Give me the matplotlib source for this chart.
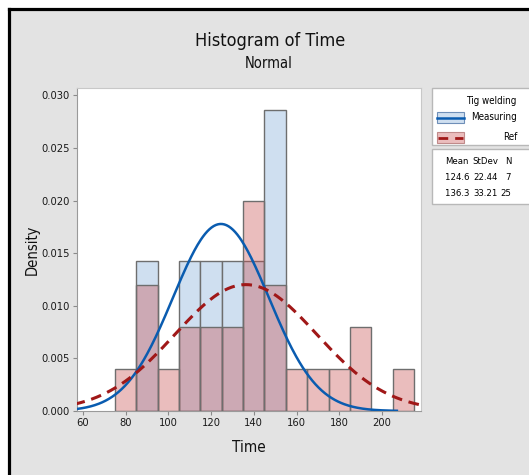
import matplotlib
matplotlib.use("Agg")
import matplotlib.pyplot as plt
import numpy as np
from matplotlib.patches import Rectangle
from matplotlib.lines import Line2D

# histogram bins (width 10) and densities
bin_edges = [75, 85, 95, 105, 115, 125, 135, 145, 155, 165, 175, 185, 195, 205, 215]
measuring_counts = [0, 1, 0, 1, 1, 1, 1, 2, 0, 0, 0, 0, 0, 0]
ref_counts = [1, 3, 1, 2, 2, 2, 5, 3, 1, 1, 1, 2, 0, 1]

groups = ["Measuring", "Ref"]
means = [124.6, 136.3]
stdevs = [22.44, 33.21]
ns = [7, 25]

x_ticks = [60, 80, 100, 120, 140, 160, 180, 200]
y_ticks = [0.000, 0.005, 0.010, 0.015, 0.020, 0.025, 0.030]

plt.rcParams["font.family"] = ["DejaVu Sans"]
plt.rcParams["font.stretch"] = "condensed"

BG = "#e3e3e3"
BLUE_FILL = "#cfdff0"
RED_FILL = (0.78, 0.30, 0.30, 0.37)
BLUE_LINE = "#0a5cb0"
RED_LINE = "#a01818"
EDGE = "#6e6e6e"

fig = plt.figure(figsize=(5.29, 4.75), dpi=100)
fig.patch.set_facecolor("white")

W, H = 529, 475
def fx(px):
    return px / W
def fy(py):
    return 1 - py / H

# gray panel with black top/left border
fig.patches.append(Rectangle((fx(9), 0), 1 - fx(9), fy(9), transform=fig.transFigure,
                             facecolor=BG, edgecolor="none", zorder=-10))
fig.lines.append(Line2D([fx(9), 1], [fy(9), fy(9)], transform=fig.transFigure,
                        color="black", linewidth=2.3, zorder=-5))
fig.lines.append(Line2D([fx(9), fx(9)], [0, fy(9)], transform=fig.transFigure,
                        color="black", linewidth=2.3, zorder=-5))

ax = fig.add_axes([fx(77), fy(411), fx(421) - fx(77), fy(88) - fy(411)])
ax.set_facecolor("white")

lefts = np.array(bin_edges[:-1])
widths = np.diff(bin_edges)
dens_m = np.array(measuring_counts) / (ns[0] * widths)
dens_r = np.array(ref_counts) / (ns[1] * widths)

mask_m = dens_m > 0
ax.bar(lefts[mask_m], dens_m[mask_m], width=widths[mask_m], align="edge",
       facecolor=BLUE_FILL, edgecolor=EDGE, linewidth=1.0, zorder=2)
mask_r = dens_r > 0
ax.bar(lefts[mask_r], dens_r[mask_r], width=widths[mask_r], align="edge",
       facecolor=RED_FILL, edgecolor=EDGE, linewidth=1.0, zorder=3)

xb = np.linspace(57, 207, 300)
yb = np.exp(-0.5 * ((xb - means[0]) / stdevs[0]) ** 2) / (stdevs[0] * np.sqrt(2 * np.pi))
ax.plot(xb, yb, color=BLUE_LINE, linewidth=1.8, zorder=5)
xr = np.linspace(56, 219, 300)
yr = np.exp(-0.5 * ((xr - means[1]) / stdevs[1]) ** 2) / (stdevs[1] * np.sqrt(2 * np.pi))
ax.plot(xr, yr, color=RED_LINE, linewidth=2.2, linestyle=(0, (3.5, 2.2)), zorder=5)

ax.set_xlim(57.2, 218.3)
ax.set_ylim(0, 0.0307)
ax.set_xticks(x_ticks)
ax.set_yticks(y_ticks)
ax.set_yticklabels([f"{v:.3f}" for v in y_ticks])
ax.tick_params(axis="both", colors="#8a8a8a", labelcolor="#1a1a1a", labelsize=8,
               length=3, width=0.8, pad=2)
for s in ["top", "right"]:
    ax.spines[s].set_color("#c8c8c8")
for s in ["left", "bottom"]:
    ax.spines[s].set_color("#9a9a9a")

ax.set_xlabel("Time", fontsize=11, color="#111111", labelpad=9)
fig.text(fx(32), fy(250), "Density", rotation=90, fontsize=10.5, color="#111111",
         ha="center", va="center")

fig.text(fx(270), fy(41), "Histogram of Time", fontsize=13, ha="center", va="center",
         color="#111111")
fig.text(fx(269), fy(64), "Normal", fontsize=10.5, ha="center", va="center", color="#111111")

# legend box
fig.patches.append(Rectangle((fx(432), fy(145)), fx(540) - fx(432), fy(88) - fy(145),
                             transform=fig.transFigure, facecolor="white",
                             edgecolor="#b8b8b8", linewidth=1.0, zorder=2))
fig.text(fx(516), fy(101), "Tig welding", fontsize=7, ha="right", va="center")
fig.patches.append(Rectangle((fx(437), fy(123)), fx(464) - fx(437), fy(112) - fy(123),
                             transform=fig.transFigure, facecolor=BLUE_FILL,
                             edgecolor="#6f8fb8", linewidth=0.8, zorder=3))
fig.lines.append(Line2D([fx(437), fx(464)], [fy(117.5), fy(117.5)], transform=fig.transFigure,
                        color=BLUE_LINE, linewidth=1.8, zorder=4))
fig.text(fx(517), fy(117), groups[0], fontsize=7, ha="right", va="center")
fig.patches.append(Rectangle((fx(437), fy(143)), fx(464) - fx(437), fy(132) - fy(143),
                             transform=fig.transFigure, facecolor="#ebbdbd",
                             edgecolor="#c08a8a", linewidth=0.8, zorder=3))
fig.lines.append(Line2D([fx(438), fx(463)], [fy(137.5), fy(137.5)], transform=fig.transFigure,
                        color=RED_LINE, linewidth=2.0, linestyle=(0, (3.5, 2.5)), zorder=4))
fig.text(fx(517), fy(137), groups[1], fontsize=7, ha="right", va="center")

# stats table box
fig.patches.append(Rectangle((fx(432), fy(204)), fx(540) - fx(432), fy(149) - fy(204),
                             transform=fig.transFigure, facecolor="white",
                             edgecolor="#b8b8b8", linewidth=1.0, zorder=2))
col_right = [469, 498, 511]
for cx, hdr in zip(col_right, ["Mean", "StDev", "N"]):
    fig.text(fx(cx), fy(162), hdr, fontsize=6.8, ha="right", va="center")
for i, yy in enumerate([177, 193]):
    vals = [f"{means[i]:.1f}", f"{stdevs[i]:.2f}", f"{ns[i]}"]
    for cx, v in zip(col_right, vals):
        fig.text(fx(cx), fy(yy), v, fontsize=6.8, ha="right", va="center")

fig.savefig("out.png", dpi=100)
